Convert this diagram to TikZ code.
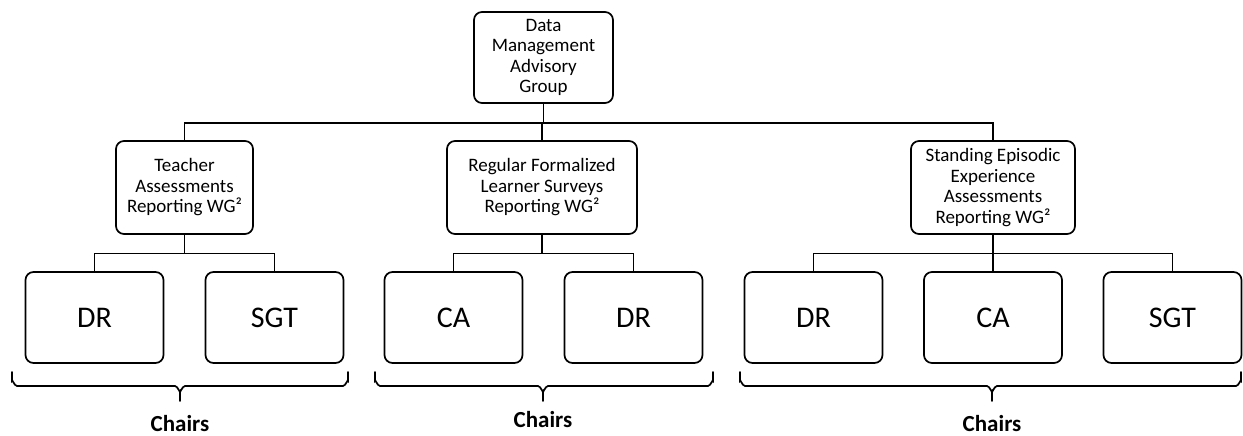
\documentclass[tikz,border=0pt]{standalone}
\usepackage{fontspec}
\setmainfont{Carlito}
\begin{document}
\begin{tikzpicture}[x=1pt,y=-1pt,
  every node/.style={font=\fontsize{19}{20.5}\selectfont},
  box/.style={draw,line width=1.7pt,rounded corners=8pt,inner sep=0pt,align=center,anchor=center},
  midbox/.style={box,minimum height=93pt},
  leafbox/.style={box,minimum width=138pt,minimum height=91pt,font=\fontsize{30}{34}\selectfont},
  link/.style={line width=1.7pt},
  bracepath/.style={line width=1.7pt,line cap=round},
  chairs/.style={inner sep=0.5pt,font=\fontsize{23}{26}\selectfont\bfseries}]
\useasboundingbox (0,0) rectangle (1243,436);
% top
\node[box,minimum width=139pt,minimum height=91pt] (top) at (543.5,57.5) {Data\\Management\\Advisory\\Group};
% middle
\node[midbox,minimum width=137pt] (teacher) at (184.5,187.5) {Teacher\\Assessments\\Reporting WG²};
\node[midbox,minimum width=190pt] (regular) at (542,187.5) {Regular Formalized\\Learner Surveys\\Reporting WG²};
\node[midbox,minimum width=164pt] (standing) at (993,187.5) {Standing Episodic\\Experience\\Assessments\\Reporting WG²};
% leaves
\node[leafbox] (dr1) at (94.5,317.5) {DR};
\node[leafbox] (sgt1) at (274.5,317.5) {SGT};
\node[leafbox] (ca2) at (453.5,317.5) {CA};
\node[leafbox] (dr2) at (633.5,317.5) {DR};
\node[leafbox] (dr3) at (813.5,317.5) {DR};
\node[leafbox] (ca3) at (993,317.5) {CA};
\node[leafbox] (sgt3) at (1172.5,317.5) {SGT};
% connectors top
\coordinate (b0) at (543.5,123);
\draw[link] (top.south) -- (b0);
\draw[link] (teacher.north) |- (b0);
\draw[link] (standing.north) |- (b0);
\draw[link] (regular.north) -- (regular.north |- b0);
% group connectors
\coordinate (g1) at (184.5,253.5);
\coordinate (g2) at (542,253.5);
\coordinate (g3) at (993,253.5);
\draw[link] (teacher.south) -- (g1);
\draw[link] (dr1.north) |- (g1) -| (sgt1.north);
\draw[link] (regular.south) -- (g2);
\draw[link] (ca2.north) |- (g2) -| (dr2.north);
\draw[link] (standing.south) -- (g3);
\draw[link] (dr3.north) |- (g3) -| (sgt3.north);
\draw[link] (ca3.north) -- (g3);
% braces
\foreach \L/\C/\R/\n in {12/180/348/1, 375/543/713/2, 740/992/1241/3}{
  \draw[bracepath] (\L,372) -- (\L,381) to[out=90,in=180] (\L+5,386) -- (\C-5,386)
     to[out=0,in=-90] (\C,391) -- (\C,401);
  \draw[bracepath] (\C,391) to[out=-90,in=180] (\C+5,386) -- (\R-5,386)
     to[out=0,in=90] (\R,381) -- (\R,372);
}
\node[chairs] (ch1) at (180,424) {Chairs};
\node[chairs] (ch2) at (543,420) {Chairs};
\node[chairs] (ch3) at (992,424) {Chairs};
\end{tikzpicture}
\end{document}
